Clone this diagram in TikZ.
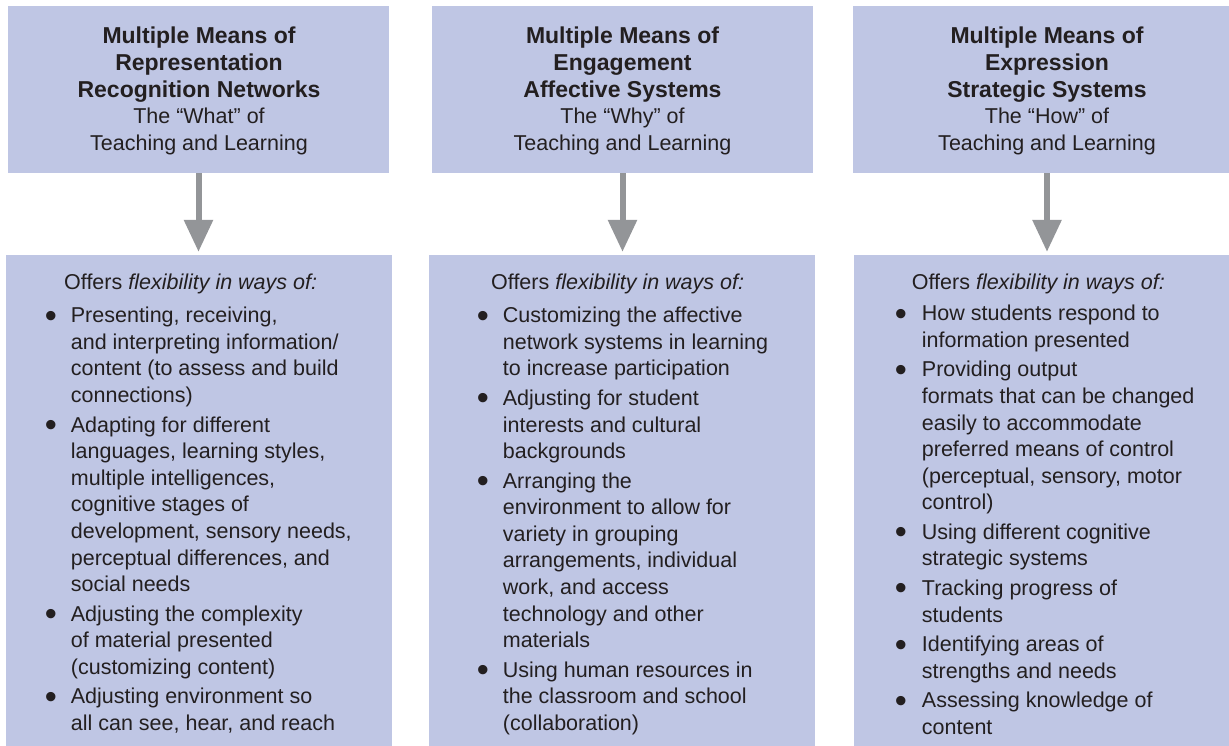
\documentclass[tikz,border=0pt]{standalone}
\usepackage{fontspec}
\usepackage{graphicx}
\setmainfont{Liberation Sans}
\usetikzlibrary{arrows.meta}
\definecolor{boxfill}{RGB}{191,198,228}
\definecolor{ink}{RGB}{35,31,32}
\definecolor{arrowgray}{RGB}{147,149,152}
\newcommand\hb{\fontsize{23}{26.6}\selectfont\bfseries}
\newcommand\cl[1]{\hbox to 260pt{\hss#1\hss}}
\newcommand\titleblock[1]{\vtop{\baselineskip=26.6pt\lineskiplimit=-100pt\lineskip=0pt #1}}
\newcommand\bodyblock[1]{\vtop{\baselineskip=26.6pt\lineskiplimit=-100pt\lineskip=0pt #1}}
\newcommand\bul[1]{\llap{\raisebox{-4.5pt}{\scalebox{1.6}{\textbullet}}\hspace{#1}}}
\newcommand\itmf[2]{\hbox{\bul{#1}#2}}
\newcommand\itm[2]{\vskip2.9pt\hbox{\bul{#1}#2}}
\newcommand\lne[1]{\hbox{#1}}
\begin{document}
\begin{tikzpicture}[x=1pt,y=-1pt,
  box/.style={draw=none, fill=boxfill, inner sep=0pt, rectangle},
  title/.style={inner sep=0pt, anchor=base, text=ink, font=\fontsize{21.5}{26.6}\selectfont},
  body/.style={inner sep=0pt, anchor=base west, text=ink, font=\fontsize{21.5}{26.6}\selectfont},
  arr/.style={draw=arrowgray, line width=6pt, -{Triangle[width=28pt,length=32pt]}, shorten >=3pt}]
\useasboundingbox (0,0) rectangle (1229,745);
\clip (0,0) rectangle (1229,745);
\fill[white] (0,0) rectangle (1229,745);
% boxes
\node[box, minimum width=381pt, minimum height=167pt] (t1) at (198.5,89.5) {};
\node[box, minimum width=381pt, minimum height=167pt] (t2) at (622.5,89.5) {};
\node[box, minimum width=388pt, minimum height=167pt] (t3) at (1047,89.5) {};
\node[box, minimum width=386pt, minimum height=495pt] (b1) at (199,502.5) {};
\node[box, minimum width=386pt, minimum height=495pt] (b2) at (622,502.5) {};
\node[box, minimum width=386pt, minimum height=495pt] (b3) at (1047,502.5) {};
% arrows
\draw[arr] (t1.south) -- (t1.south |- b1.north);
\draw[arr] (t2.south) -- (t2.south |- b2.north);
\draw[arr] (t3.south) -- (t3.south |- b3.north);
% titles
\node[title] (h1) at (199,43.8) {\titleblock{\cl{\hb Multiple Means of}\cl{\hb Representation}\cl{\hb Recognition Networks}\cl{The “What” of}\cl{Teaching and Learning}}};
\node[title] (h2) at (622.5,43.8) {\titleblock{\cl{\hb Multiple Means of}\cl{\hb Engagement}\cl{\hb Affective Systems}\cl{The “Why” of}\cl{Teaching and Learning}}};
\node[title] (h3) at (1047,43.8) {\titleblock{\cl{\hb Multiple Means of}\cl{\hb Expression}\cl{\hb Strategic Systems}\cl{The “How” of}\cl{Teaching and Learning}}};
% offers lines
\node[body] (o1) at (64,289) {Offers \textit{flexibility in ways of:}};
\node[body] (o2) at (491,289) {Offers \textit{flexibility in ways of:}};
\node[body] (o3) at (911.7,289) {Offers \textit{flexibility in ways of:}};
% lists
\node[body] (l1) at (70.7,322.7) {\bodyblock{%
\itmf{14pt}{Presenting, receiving,}%
\lne{and interpreting information/}%
\lne{content (to assess and build}%
\lne{connections)}%
\itm{14pt}{Adapting for different}%
\lne{languages, learning styles,}%
\lne{multiple intelligences,}%
\lne{cognitive stages of}%
\lne{development, sensory needs,}%
\lne{perceptual differences, and}%
\lne{social needs}%
\itm{14pt}{Adjusting the complexity}%
\lne{of material presented}%
\lne{(customizing content)}%
\itm{14pt}{Adjusting environment so}%
\lne{all can see, hear, and reach}}};
\node[body] (l2) at (502.7,322.7) {\bodyblock{%
\itmf{14pt}{Customizing the affective}%
\lne{network systems in learning}%
\lne{to increase participation}%
\itm{14pt}{Adjusting for student}%
\lne{interests and cultural}%
\lne{backgrounds}%
\itm{14pt}{Arranging the}%
\lne{environment to allow for}%
\lne{variety in grouping}%
\lne{arrangements, individual}%
\lne{work, and access}%
\lne{technology and other}%
\lne{materials}%
\itm{14pt}{Using human resources in}%
\lne{the classroom and school}%
\lne{(collaboration)}}};
\node[body] (l3) at (921.7,320.7) {\bodyblock{%
\itmf{15pt}{How students respond to}%
\lne{information presented}%
\itm{15pt}{Providing output}%
\lne{formats that can be changed}%
\lne{easily to accommodate}%
\lne{preferred means of control}%
\lne{(perceptual, sensory, motor}%
\lne{control)}%
\itm{15pt}{Using different cognitive}%
\lne{strategic systems}%
\itm{15pt}{Tracking progress of}%
\lne{students}%
\itm{15pt}{Identifying areas of}%
\lne{strengths and needs}%
\itm{15pt}{Assessing knowledge of}%
\lne{content}}};
\end{tikzpicture}
\end{document}
